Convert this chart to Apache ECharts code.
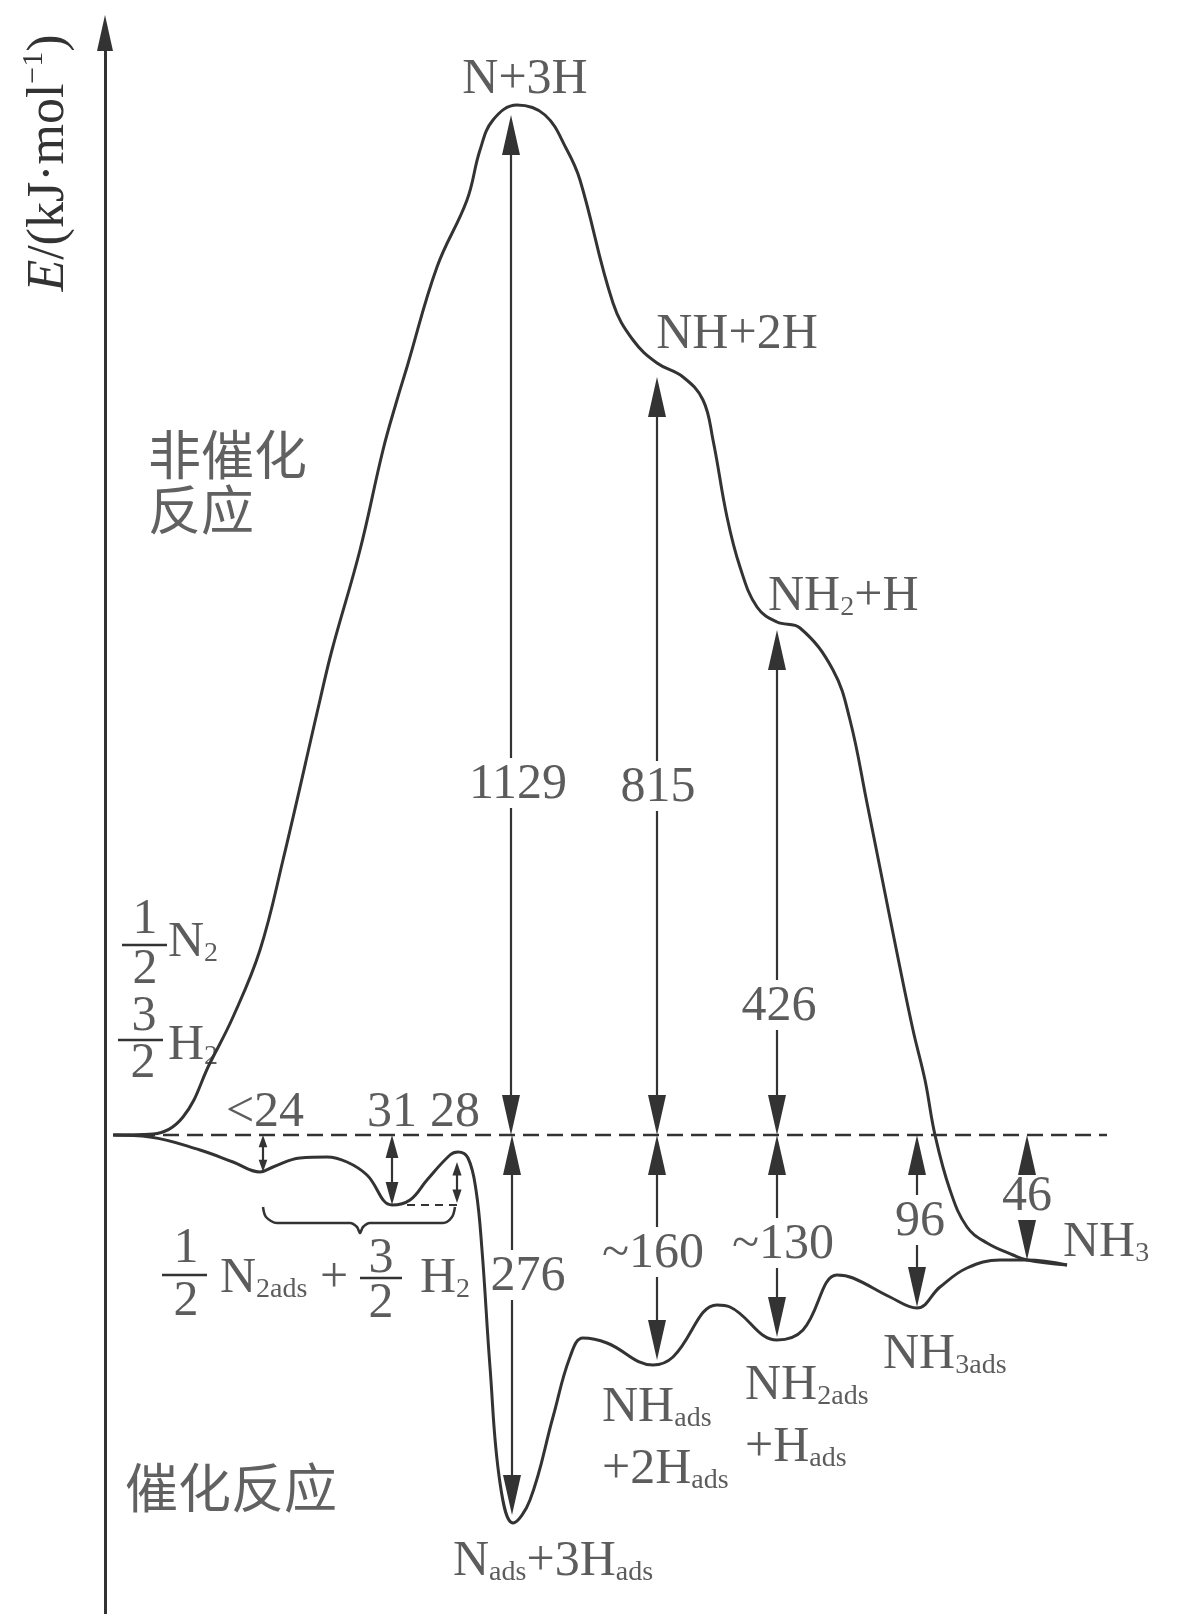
<!DOCTYPE html>
<html><head><meta charset="utf-8">
<script src="https://cdn.jsdelivr.net/npm/echarts@6/dist/echarts.min.js"></script>
<style>html,body{margin:0;padding:0;background:#fff}#c{width:1180px;height:1614px}</style>
</head><body><div id="c"></div>
<script>
// ---- DATA (diagram units: reaction coordinate x, energy E with 0 = 1/2 N2 + 3/2 H2) ----
const uncatX = [8,48,78,105,128,155,178,215,227,255,278,292,302,332,362,375,388,412,440,462,475,508,528,552,578,598,608,622,635,652,672,695,728,745,762,775,792,808,820,830,845,862,882,908,922,962];
const uncatE = [0,1,18,72,118,185,275,435,485,585,685,735,768,868,935,985,1015,1030,1020,985,955,832,795,772,758,735,695,618,568,528,513,507,465,415,332,267,182,105,55,0,-55,-92,-108,-120,-125,-130];
const catX = [8,45,95,128,155,168,195,222,242,262,287,305,322,345,353,363,371,377,385,395,408,425,448,465,478,502,548,568,612,625,672,698,732,748,785,812,835,862,895,922,962];
const catE = [0,-2,-15,-27,-37,-32,-23,-22,-27,-40,-70,-65,-45,-20,-17,-23,-55,-115,-232,-348,-388,-365,-282,-222,-203,-208,-230,-222,-170,-172,-205,-195,-140,-143,-162,-173,-152,-133,-125,-125,-130];
// energy-difference arrows
const arrowX      = [406, 552, 672, 407, 552, 672, 812, 922, 158, 287, 352];
const arrowFrom   = [0, 0, 0, 0, 0, 0, 0, 0, 0, 0, -27];
const arrowTo     = [1020, 758, 505, -380, -225, -202, -172, -125, -37, -70, -68];
const arrowValues = ['1129', '815', '426', '276', '~160', '~130', '96', '46', '<24', '31', '28'];
const baselineX = [10, 1002];

// ---- LAYOUT (label anchors in diagram units) ----
const arrowLabelPos = [[413,352],[553,349],[674,130],[423,-140],[548,-117],[678,-108],[815,-85],[922,-60],[160,24],[287,24],[350,24]];
const arrowLabelOnShaft = [true,true,true,true,true,true,true,true,false,false,false];
const textLabels = [
  [420, 1057, '{m|N+3H}', 'center'],
  [632, 802, '{m|NH+2H}', 'center'],
  [663, 540, '{m|NH}{s|2}{m|+H}', 'left'],
  [958, -106, '{m|NH}{s|3}', 'left'],
  [778, -218, '{m|NH}{s|3ads}', 'left'],
  [497, -271, '{m|NH}{s|ads}', 'left'],
  [497, -333, '{m|+2H}{s|ads}', 'left'],
  [640, -249, '{m|NH}{s|2ads}', 'left'],
  [640, -311, '{m|+H}{s|ads}', 'left'],
  [348, -425, '{m|N}{s|ads}{m|+3H}{s|ads}', 'left'],
  [43, 654, '{zh|非催化}\n{zh|反应}', 'left'],
  [20, -352, '{zh|催化反应}', 'left'],
  [40, 217, '{m|1}', 'center'],
  [40, 167, '{m|2}', 'center'],
  [63, 194, '{m|N}{s|2}', 'left'],
  [39, 120, '{m|3}', 'center'],
  [38, 73, '{m|2}', 'center'],
  [63, 91, '{m|H}{s|2}', 'left'],
  [81, -112, '{m|1}', 'center'],
  [81, -165, '{m|2}', 'center'],
  [115, -142, '{m|N}{s|2ads}{m| +}', 'left'],
  [276, -122, '{m|3}', 'center'],
  [276, -167, '{m|2}', 'center'],
  [315, -142, '{m|H}{s|2}', 'left']
];
const fractionBars = [[[17,190],[62,190]], [[13,95],[58,95]], [[57,-140],[102,-140]], [[255,-143],[297,-143]]];
const braceX = [158,161,172,245,252,255,258,265,338,347,350];
const braceE = [-72,-82,-88,-88,-92,-98,-92,-88,-88,-82,-72];
const miniDash = [[302,-70],[352,-70]];

// ---- STYLE ----
const ink = '#333';
const serif = '"Liberation Serif","Times New Roman",serif';
const rich = {
  m: {fontFamily: serif, fontSize: 50, lineHeight: 54, color: ink, verticalAlign: 'bottom'},
  s: {fontFamily: serif, fontSize: 28, lineHeight: 26, color: ink, verticalAlign: 'bottom'},
  zh: {fontFamily: '"Noto Sans CJK SC"', fontSize: 53, lineHeight: 55, color: '#3a3a3a', verticalAlign: 'bottom'}
};
const GAP_HALF = 25;

const zip = (xs, ys) => xs.map((x, i) => [x, ys[i]]);
const strokeSeries = (data, extra) => Object.assign({
  type: 'line', data: data, symbol: 'none', silent: true, animation: false, clip: false, z: 3,
  lineStyle: {color: ink, width: 2.5}
}, extra || {});

const labelData = [];
arrowValues.forEach((v, i) => {
  labelData.push({value: arrowLabelPos[i], label: {formatter: () => '{m|' + v + '}', align: 'center'}});
});
textLabels.forEach(t => {
  labelData.push({value: [t[0], t[1]], label: {formatter: () => t[2], align: t[3]}});
});

const series = [
  strokeSeries(zip(uncatX, uncatE), {smooth: 0.4, lineStyle: {color: ink, width: 3}, z: 4}),
  strokeSeries(zip(catX, catE), {smooth: 0.4, lineStyle: {color: ink, width: 3}, z: 4}),
  strokeSeries(baselineX.map(x => [x, 0]), {lineStyle: {color: ink, width: 2.5, type: [16, 8]}}),
  strokeSeries(zip(braceX, braceE), {smooth: 0.3}),
  strokeSeries(miniDash, {lineStyle: {color: ink, width: 2.2, type: [8, 6]}}),
  ...fractionBars.map(b => strokeSeries(b)),
  {
    type: 'custom', coordinateSystem: 'cartesian2d', silent: true, animation: false, clip: false, z: 5,
    encode: {x: 0, y: [1, 2]},
    data: arrowX.map((x, i) => [x, arrowFrom[i], arrowTo[i], arrowLabelOnShaft[i] ? arrowLabelPos[i][1] : NaN]),
    renderItem: function (params, api) {
      const x = api.value(0);
      const a = api.coord([x, api.value(1)]);
      const b = api.coord([x, api.value(2)]);
      const gapE = api.value(3);
      const len = Math.abs(b[1] - a[1]);
      const hl = Math.min(40, len * 0.33);
      const hw = Math.min(9, 2 + hl * 0.19);
      const d = b[1] > a[1] ? 1 : -1;
      const y1 = a[1] + d * hl * 0.5, y2 = b[1] - d * hl * 0.5;
      const children = [];
      const seg = (ya, yb) => children.push({type: 'line', shape: {x1: a[0], y1: ya, x2: a[0], y2: yb}, style: {stroke: ink, lineWidth: 2.2}});
      if (isNaN(gapE)) {
        seg(y1, y2);
      } else {
        const g = api.coord([x, gapE])[1];
        seg(y1, g - d * GAP_HALF);
        seg(g + d * GAP_HALF, y2);
      }
      children.push({type: 'polygon', shape: {points: [[a[0], a[1]], [a[0] - hw, a[1] + d * hl], [a[0] + hw, a[1] + d * hl]]}, style: {fill: ink}});
      children.push({type: 'polygon', shape: {points: [[b[0], b[1]], [b[0] - hw, b[1] - d * hl], [b[0] + hw, b[1] - d * hl]]}, style: {fill: ink}});
      return {type: 'group', children: children};
    }
  },
  {
    type: 'scatter', silent: true, animation: false, z: 10, symbolSize: 1,
    itemStyle: {color: 'rgba(0,0,0,0)'},
    label: {show: true, position: 'inside', verticalAlign: 'middle', rich: rich, color: ink},
    labelLayout: {hideOverlap: false},
    data: labelData
  }
];

const chart = echarts.init(document.getElementById('c'), null, {renderer: 'canvas'});
chart.setOption({
  animation: false,
  backgroundColor: '#fff',
  grid: {left: 105, right: 0, top: 33, bottom: 0, containLabel: false, outerBoundsMode: 'none'},
  xAxis: {type: 'value', min: 0, max: 1075, show: false},
  yAxis: {
    type: 'value', min: -479, max: 1102,
    axisLine: {show: true, onZero: false, symbol: ['none', 'triangle'], symbolSize: [16, 36], lineStyle: {color: ink, width: 3}},
    axisTick: {show: false}, axisLabel: {show: false}, splitLine: {show: false}
  },
  graphic: [{
    type: 'text', x: 47, y: 163, rotation: Math.PI / 2, silent: true,
    style: {
      text: '{i|E}{m|/(kJ·mol}{sup|−1}{m|)}',
      align: 'center', verticalAlign: 'middle',
      rich: {
        i: {fontFamily: serif, fontSize: 52, fontStyle: 'italic', lineHeight: 56, fill: ink, verticalAlign: 'bottom'},
        m: {fontFamily: serif, fontSize: 52, lineHeight: 56, fill: ink, verticalAlign: 'bottom'},
        sup: {fontFamily: serif, fontSize: 30, lineHeight: 30, fill: ink, verticalAlign: 'top'}
      }
    }
  }],
  series: series
});
</script>
</body></html>
